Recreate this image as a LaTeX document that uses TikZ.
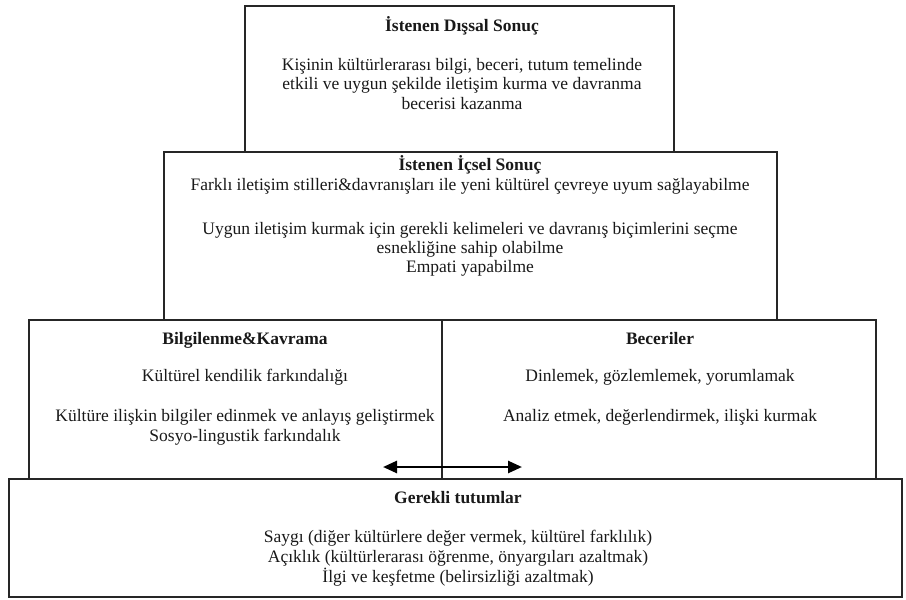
\documentclass[tikz,border=0pt]{standalone}
\usepackage{fontspec}
\setmainfont{Liberation Serif}
\usetikzlibrary{arrows.meta}
\tikzset{
  boxnode/.style={draw=black!85, line width=1.3pt, inner sep=0pt, outer sep=0pt, fill=none},
  txt/.style={font=\fontsize{17.5}{20}\selectfont, inner sep=0pt, anchor=base, text=black!90},
  ttl/.style={txt, font=\fontsize{17.5}{20}\selectfont\bfseries},
  twoway/.style={line width=2.6pt, {Triangle[length=14pt,width=12pt]}-{Triangle[length=14pt,width=12pt]}}
}
\begin{document}
\begin{tikzpicture}[x=1pt,y=-1pt]
\useasboundingbox (0,0) rectangle (906,600);
% boxes
\node[boxnode, minimum width=429pt, minimum height=146pt] (dis) at (459.5,79) {};
\node[boxnode, minimum width=613pt, minimum height=168pt] (ic) at (470.5,236) {};
\node[boxnode, minimum width=413pt, minimum height=159pt] (bil) at (235.5,399.5) {};
\node[boxnode, minimum width=434pt, minimum height=159pt] (bec) at (659,399.5) {};
\node[boxnode, minimum width=893pt, minimum height=118pt] (tut) at (455.5,538) {};
% top box text
\node[ttl] (t1) at (462,31) {İstenen Dışsal Sonuç};
\node[txt] (t1a) at (462,70) {Kişinin kültürlerarası bilgi, beceri, tutum temelinde};
\node[txt] (t1b) at (462,89.5) {etkili ve uygun şekilde iletişim kurma ve davranma};
\node[txt] (t1c) at (462,109) {becerisi kazanma};
% second box text
\node[ttl] (t2) at (470,170) {İstenen İçsel Sonuç};
\node[txt] (t2a) at (470,190) {Farklı iletişim stilleri\&davranışları ile yeni kültürel çevreye uyum sağlayabilme};
\node[txt] (t2b) at (470,234) {Uygun iletişim kurmak için gerekli kelimeleri ve davranış biçimlerini seçme};
\node[txt] (t2c) at (470,253) {esnekliğine sahip olabilme};
\node[txt] (t2d) at (470,272) {Empati yapabilme};
% left box
\node[ttl] (t3) at (245,344) {Bilgilenme\&Kavrama};
\node[txt] (t3a) at (245,381) {Kültürel kendilik farkındalığı};
\node[txt] (t3b) at (245,421) {Kültüre ilişkin bilgiler edinmek ve anlayış geliştirmek};
\node[txt] (t3c) at (245,441) {Sosyo-lingustik farkındalık};
% right box
\node[ttl] (t4) at (660,344) {Beceriler};
\node[txt] (t4a) at (660,381) {Dinlemek, gözlemlemek, yorumlamak};
\node[txt] (t4b) at (660,421) {Analiz etmek, değerlendirmek, ilişki kurmak};
% bottom box
\node[ttl] (t5) at (458,503) {Gerekli tutumlar};
\node[txt] (t5a) at (458,542) {Saygı (diğer kültürlere değer vermek, kültürel farklılık)};
\node[txt] (t5b) at (458,562) {Açıklık (kültürlerarası öğrenme, önyargıları azaltmak)};
\node[txt] (t5c) at (458,582) {İlgi ve keşfetme (belirsizliği azaltmak)};
% arrow
\coordinate (aL) at (383,467);
\coordinate (aR) at (522,467);
\draw[twoway] (aL) -- (aR);
\end{tikzpicture}
\end{document}
